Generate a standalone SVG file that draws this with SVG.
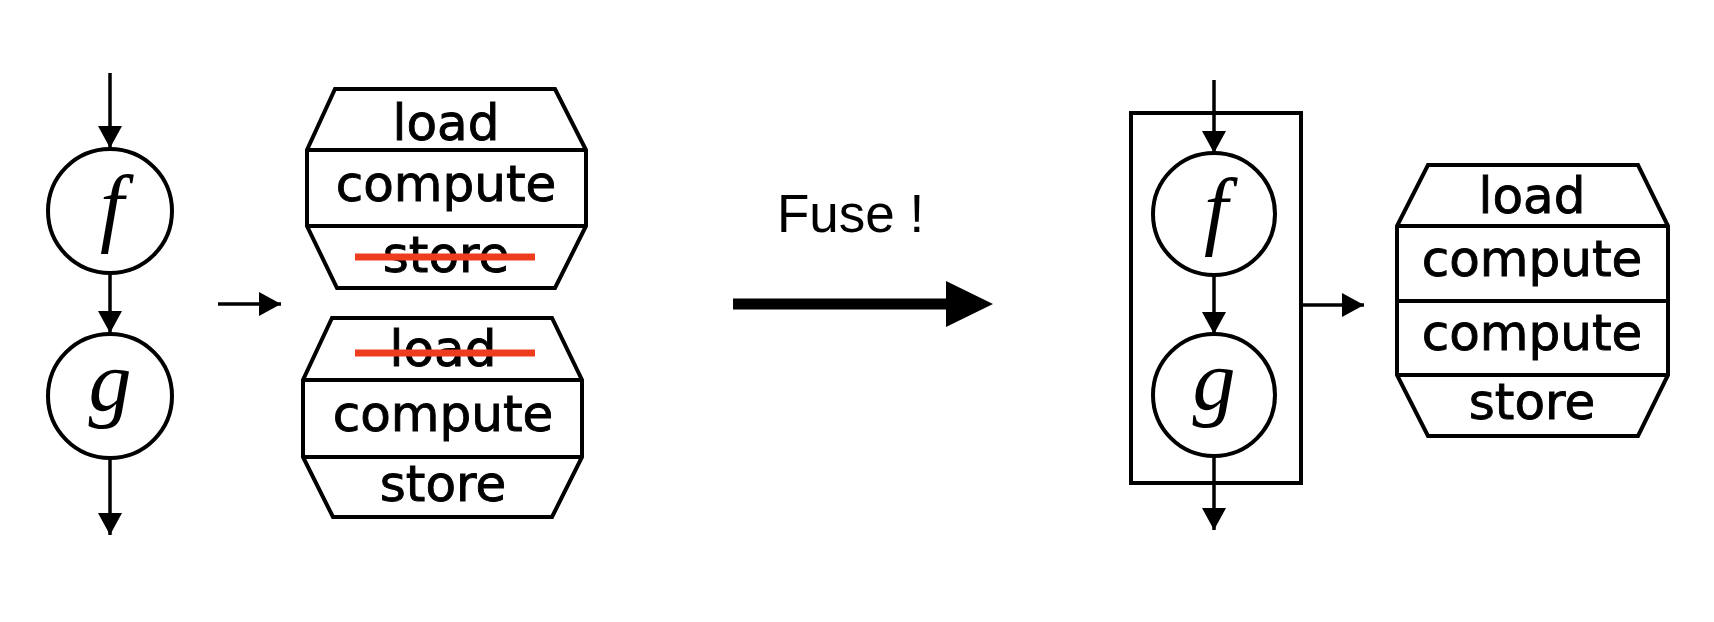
<svg xmlns="http://www.w3.org/2000/svg" width="1714" height="622" viewBox="0 0 1714 622">
<style>
.sh{fill:none;stroke:#000;stroke-width:4;stroke-linejoin:miter}
.ln{fill:none;stroke:#000;stroke-width:3.5}
.lbl{font-family:"DejaVu Sans",sans-serif;font-size:50px;text-anchor:middle;fill:#000;stroke:#000;stroke-width:0.9}
.math{font-family:"Liberation Serif","DejaVu Serif",serif;font-style:italic;font-size:86px;text-anchor:middle;fill:#000}
.strike{stroke:#f03c1e;stroke-width:7;fill:none}
</style>
<defs>
<marker id="ah" viewBox="0 0 22 24" refX="22" refY="12" markerWidth="22" markerHeight="24" markerUnits="userSpaceOnUse" orient="auto">
<path d="M0,0 L22,12 L0,24 Z" fill="#000"/>
</marker>
</defs>
<rect width="1714" height="622" fill="#fff"/>

<g id="f-left">
<circle class="sh" cx="110" cy="211" r="62"/>
<text class="math" x="112" y="235">f</text>
</g>
<g id="g-left">
<circle class="sh" cx="110" cy="396" r="62"/>
<text class="math" x="110" y="410">g</text>
</g>

<g id="block1">
<path class="sh" d="M335,89 L555,89 L586,150 L586,226 L555,288 L337,288 L307,226 L307,150 Z"/>
<line class="sh" x1="307" y1="150" x2="586" y2="150"/>
<line class="sh" x1="307" y1="226" x2="586" y2="226"/>
<text class="lbl" x="446" y="140">load</text>
<text class="lbl" x="446" y="201">compute</text>
<text class="lbl" x="446" y="272">store</text>
<line class="strike" x1="355" y1="257" x2="535" y2="257"/>
</g>

<g id="block2">
<path class="sh" d="M332,318 L552,318 L582,380 L582,457 L552,517 L333,517 L303,457 L303,380 Z"/>
<line class="sh" x1="303" y1="380" x2="582" y2="380"/>
<line class="sh" x1="303" y1="457" x2="582" y2="457"/>
<text class="lbl" x="443" y="366">load</text>
<text class="lbl" x="443" y="431">compute</text>
<text class="lbl" x="443" y="501">store</text>
<line class="strike" x1="355" y1="353" x2="535" y2="353"/>
</g>

<g id="fuse-label">
<text x="777" y="232" font-family="'Liberation Sans', Arial, sans-serif" font-size="53" fill="#000">Fuse !</text>
</g>

<g id="fused-box">
<rect class="sh" x="1131" y="113" width="170" height="370"/>
</g>
<g id="f-right">
<circle class="sh" cx="1214" cy="214" r="61"/>
<text class="math" x="1216" y="238">f</text>
</g>
<g id="g-right">
<circle class="sh" cx="1214" cy="395" r="61"/>
<text class="math" x="1214" y="409">g</text>
</g>

<g id="block3">
<path class="sh" d="M1428,165 L1638,165 L1668,226 L1668,375 L1638,436 L1428,436 L1397,375 L1397,226 Z"/>
<line class="sh" x1="1397" y1="226" x2="1668" y2="226"/>
<line class="sh" x1="1397" y1="301" x2="1668" y2="301"/>
<line class="sh" x1="1397" y1="375" x2="1668" y2="375"/>
<text class="lbl" x="1532" y="213">load</text>
<text class="lbl" x="1532" y="276">compute</text>
<text class="lbl" x="1532" y="350">compute</text>
<text class="lbl" x="1532" y="419">store</text>
</g>

<g id="connectors">
<line class="ln" x1="110" y1="73" x2="110" y2="148" marker-end="url(#ah)"/>
<line class="ln" x1="110" y1="273" x2="110" y2="333" marker-end="url(#ah)"/>
<line class="ln" x1="110" y1="458" x2="110" y2="535" marker-end="url(#ah)"/>
<line class="ln" x1="218" y1="304" x2="281" y2="304" marker-end="url(#ah)"/>
<line x1="733" y1="304" x2="950" y2="304" stroke="#000" stroke-width="11"/>
<polygon points="946,281 993,304 946,327" fill="#000"/>
<line class="ln" x1="1214" y1="80" x2="1214" y2="153" marker-end="url(#ah)"/>
<line class="ln" x1="1214" y1="275" x2="1214" y2="334" marker-end="url(#ah)"/>
<line class="ln" x1="1214" y1="456" x2="1214" y2="530" marker-end="url(#ah)"/>
<line class="ln" x1="1301" y1="305" x2="1364" y2="305" marker-end="url(#ah)"/>
</g>
</svg>
